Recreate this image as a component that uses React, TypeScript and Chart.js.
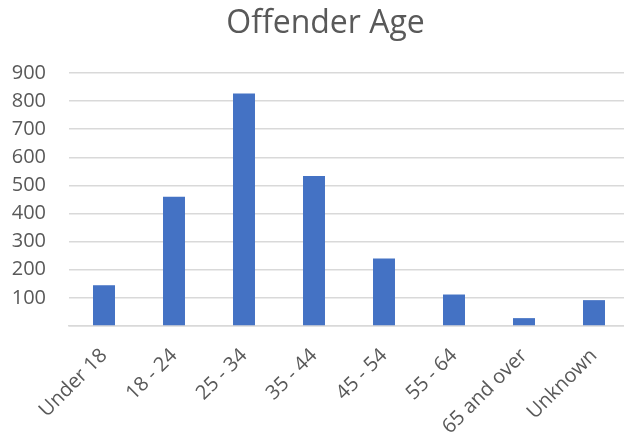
import React, { useEffect, useRef } from "react";
import { Chart, registerables } from "chart.js";

Chart.register(...registerables);

const categories = ["Under 18", "18 - 24", "25 - 34", "35 - 44", "45 - 54", "55 - 64", "65 and over", "Unknown"];
const offenderCounts = [145, 460, 827, 534, 240, 112, 28, 92];
const yTickValues = [0, 100, 200, 300, 400, 500, 600, 700, 800, 900];

const CANVAS_W = 651;
const CANVAS_H = 446;

export default function App() {
  const ref = useRef<HTMLCanvasElement | null>(null);

  useEffect(() => {
    if (!ref.current) return;
    const chart = new Chart(ref.current, {
      type: "bar",
      data: {
        labels: categories,
        datasets: [
          {
            label: "Offenders",
            data: offenderCounts,
            backgroundColor: "#4472C4",
            borderWidth: 0,
            barPercentage: 1,
            categoryPercentage: 0.314,
          },
        ],
      },
      options: {
        responsive: false,
        animation: false,
        devicePixelRatio: 1,
        layout: { padding: 0 },
        plugins: {
          legend: { display: false },
          tooltip: { enabled: false },
          title: {
            display: true,
            text: "Offender Age",
            color: "#595959",
            font: { family: "'Open Sans'", size: 32, weight: "normal", lineHeight: 1.2 },
            padding: { top: 5, bottom: 29.6 },
          },
        },
        scales: {
          x: {
            grid: { display: false, drawTicks: false },
            border: { display: true, color: "#D9D9D9", width: 1.5 },
            ticks: {
              color: "#595959",
              font: { family: "'Open Sans'", size: 20 },
              minRotation: 45,
              maxRotation: 45,
              padding: 18,
              autoSkip: false,
            },
            afterFit: (s: any) => {
              s.height = CANVAS_H - 326;
            },
          },
          y: {
            min: 0,
            max: 900,
            afterBuildTicks: (s: any) => {
              s.ticks = yTickValues.map((v) => ({ value: v }));
            },
            grid: { color: "#D9D9D9", lineWidth: 1.5, drawTicks: false },
            border: { display: false },
            ticks: {
              color: "#595959",
              font: { family: "'Open Sans'", size: 20 },
              padding: 23,
              callback: (v: any) => (Number(v) === 0 ? "" : String(v)),
            },
            afterFit: (s: any) => {
              s.width = 69;
            },
          },
          spacer: {
            type: "linear",
            position: "right",
            display: true,
            grid: { display: false, drawTicks: false },
            border: { display: false },
            ticks: { display: false },
            afterFit: (s: any) => {
              s.width = CANVAS_W - 629;
            },
          },
        },
      },
    } as any);
    return () => chart.destroy();
  }, []);

  return (
    <div style={{ position: "fixed", left: 0, top: 0, width: 624, height: 446, overflow: "hidden", background: "#fff" }}>
      <canvas ref={ref} width={CANVAS_W} height={CANVAS_H} style={{ width: CANVAS_W, height: CANVAS_H, display: "block" }} />
    </div>
  );
}
